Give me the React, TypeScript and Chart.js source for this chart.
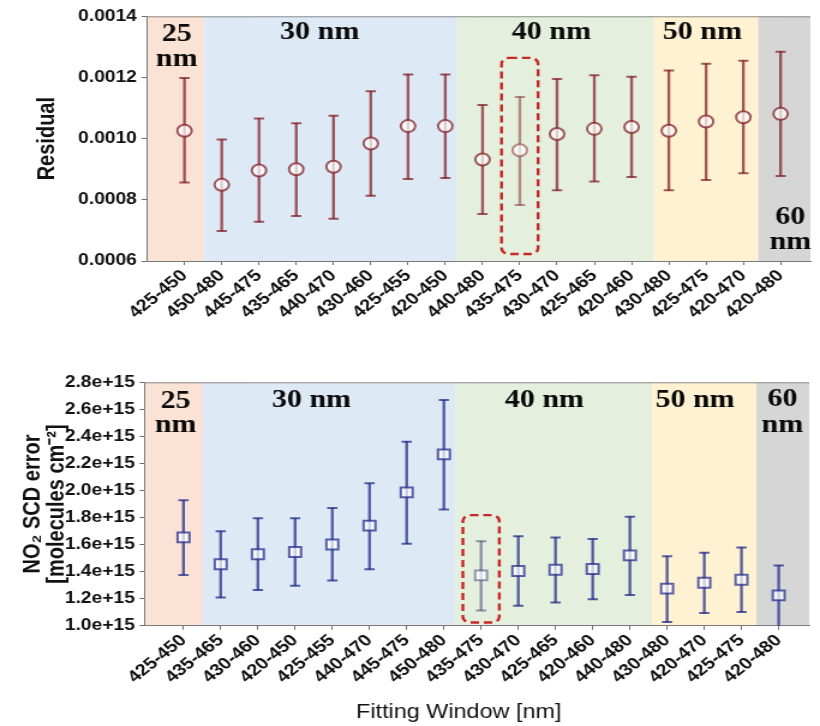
import React, { useEffect, useRef } from 'react';
import { Chart, registerables } from 'chart.js';
Chart.register(...registerables);

// ---------- data ----------
const residualWindows = ['425-450', '450-480', '445-475', '435-465', '440-470', '430-460', '425-455', '420-450', '440-480', '435-475', '430-470', '425-465', '420-460', '430-480', '425-475', '420-470', '420-480'];
const residualValues = [0.001026, 0.000849, 0.000896, 0.000900, 0.000908, 0.000984, 0.001041, 0.001041, 0.000932, 0.000962, 0.001015, 0.001032, 0.001038, 0.001026, 0.001056, 0.001070, 0.001081];
const residualUpper = [0.001198, 0.000997, 0.001066, 0.001050, 0.001075, 0.001155, 0.001210, 0.001210, 0.001110, 0.001136, 0.001195, 0.001207, 0.001202, 0.001223, 0.001245, 0.001255, 0.001284];
const residualLower = [0.000857, 0.000698, 0.000728, 0.000747, 0.000738, 0.000813, 0.000868, 0.000871, 0.000754, 0.000783, 0.000831, 0.000860, 0.000875, 0.000831, 0.000865, 0.000887, 0.000878];
const residualTicks = [0.0006, 0.0008, 0.0010, 0.0012, 0.0014];
const residualHighlight = 9;

const scdWindows = ['425-450', '435-465', '430-460', '420-450', '425-455', '440-470', '445-475', '450-480', '435-475', '430-470', '425-465', '420-460', '440-480', '430-480', '420-470', '425-475', '420-480'];
const scdValues = [1.653e15, 1.454e15, 1.528e15, 1.545e15, 1.601e15, 1.740e15, 1.986e15, 2.267e15, 1.372e15, 1.404e15, 1.414e15, 1.419e15, 1.520e15, 1.274e15, 1.318e15, 1.340e15, 1.224e15];
const scdUpper = [1.927e15, 1.698e15, 1.794e15, 1.794e15, 1.870e15, 2.053e15, 2.361e15, 2.669e15, 1.624e15, 1.661e15, 1.653e15, 1.641e15, 1.806e15, 1.513e15, 1.540e15, 1.579e15, 1.446e15];
const scdLower = [1.375e15, 1.209e15, 1.264e15, 1.296e15, 1.335e15, 1.417e15, 1.606e15, 1.860e15, 1.113e15, 1.148e15, 1.172e15, 1.195e15, 1.227e15, 1.027e15, 1.093e15, 1.101e15, 0.990e15];
const scdTicks = [1.0e15, 1.2e15, 1.4e15, 1.6e15, 1.8e15, 2.0e15, 2.2e15, 2.4e15, 2.6e15, 2.8e15];
const scdHighlight = 8;

const bandLabels = [['25', 'nm'], ['30 nm'], ['40 nm'], ['50 nm'], ['60', 'nm']];
const bandEdges = [-3, 0.52, 7.32, 12.6, 15.4, 20];
const bandColors = ['#fae2d5', '#dee9f6', '#e5efdd', '#fff2d3', '#d6d6d6'];

// ---------- rendering ----------
const STRETCH = 1.2;
const SCREEN_W = 820;
const INNER_W = Math.round(SCREEN_W / STRETCH);
const SANS = "'Liberation Sans', Arial, Helvetica, sans-serif";
const SERIF = "'Liberation Serif', 'Times New Roman', serif";

const bandsPlugin = {
  id: 'bands',
  beforeDraw(chart: any) {
    const { ctx, chartArea, scales } = chart;
    const x = scales.x;
    ctx.save();
    ctx.fillStyle = '#ffffff';
    ctx.fillRect(0, 0, chart.width, chart.height);
    for (let i = 0; i < bandColors.length; i++) {
      const x0 = Math.max(chartArea.left, x.getPixelForValue(bandEdges[i]));
      const x1 = Math.min(chartArea.right, x.getPixelForValue(bandEdges[i + 1]));
      ctx.fillStyle = bandColors[i];
      ctx.fillRect(x0, chartArea.top, x1 - x0, chartArea.bottom - chartArea.top);
    }
    ctx.restore();
  },
  afterDatasetsDraw(chart: any) {
    const { ctx, chartArea, scales } = chart;
    const o = chart.options.plugins.bands;
    const x = scales.x;
    const y = scales.y;
    ctx.save();
    // top frame line
    ctx.strokeStyle = '#8c8c8c';
    ctx.lineWidth = 1;
    ctx.beginPath();
    ctx.moveTo(chartArea.left, chartArea.top + 0.5);
    ctx.lineTo(chartArea.right, chartArea.top + 0.5);
    ctx.stroke();

    // highlight dashed box
    const h = o.highlight;
    const hx0 = x.getPixelForValue(h.x - h.half);
    const hx1 = x.getPixelForValue(h.x + h.half);
    const hy0 = y.getPixelForValue(h.top);
    const hy1 = y.getPixelForValue(h.bottom);
    ctx.strokeStyle = '#c62828';
    ctx.lineWidth = 2.4;
    ctx.setLineDash([7, 4]);
    ctx.beginPath();
    if ((ctx as any).roundRect) (ctx as any).roundRect(hx0, hy0, hx1 - hx0, hy1 - hy0, 6);
    else ctx.rect(hx0, hy0, hx1 - hx0, hy1 - hy0);
    ctx.stroke();
    ctx.setLineDash([]);

    // band labels
    ctx.fillStyle = '#0a0a0a';
    ctx.font = `bold 25px ${SERIF}`;
    ctx.textAlign = 'center';
    ctx.textBaseline = 'alphabetic';
    bandLabels.forEach((lines, i) => {
      const px = x.getPixelForValue(o.labelX[i]);
      const offs = o.labelY[i];
      lines.forEach((t: string, j: number) => {
        const off = offs[j];
        const py = off >= 0 ? chartArea.top + off : chartArea.bottom + off;
        ctx.fillText(t, px, py);
      });
    });

    if (o.xTitle) {
      ctx.font = `19.5px ${SANS}`;
      ctx.fillStyle = '#111';
      ctx.textBaseline = 'middle';
      ctx.fillText(o.xTitle, x.getPixelForValue(o.xTitleX), chartArea.bottom + o.xTitleDy);
    }
    ctx.restore();
  },
};

function makeConfig(p: any) {
  const n = p.windows.length;
  const idx = p.windows.map((_: string, i: number) => i);
  const colors = idx.map((i: number) => (i === p.highlight ? p.light : p.dark));
  const tickFont = { family: SANS, weight: 'bold' as const, size: 16 };
  return {
    type: 'scatter',
    data: {
      datasets: [
        {
          type: 'scatter',
          data: idx.map((i: number) => ({ x: i, y: p.values[i] })),
          pointStyle: p.marker,
          pointRadius: p.markerRadius,
          pointBorderWidth: 2,
          pointBackgroundColor: 'rgba(255,255,255,0.7)',
          pointBorderColor: colors,
          order: 0,
        },
        {
          type: 'scatter',
          data: idx.map((i: number) => ({ x: i, y: p.upper[i] })),
          pointStyle: 'line',
          pointRadius: 4.3,
          pointBorderWidth: 2,
          pointBorderColor: colors,
          order: 1,
        },
        {
          type: 'scatter',
          data: idx.map((i: number) => ({ x: i, y: p.lower[i] })),
          pointStyle: 'line',
          pointRadius: 4.3,
          pointBorderWidth: 2,
          pointBorderColor: colors,
          order: 1,
        },
        {
          type: 'bar',
          data: idx.map((i: number) => ({ x: i, y: [p.lower[i], p.upper[i]] })),
          backgroundColor: colors,
          borderWidth: 0,
          barThickness: 1.7,
          order: 2,
        },
      ],
    },
    options: {
      animation: false,
      responsive: false,
      events: [],
      layout: { padding: { top: p.padTop, left: 0, right: 0, bottom: 0 } },
      plugins: {
        legend: { display: false },
        tooltip: { enabled: false },
        bands: {
          labelX: p.labelX,
          labelY: p.labelY,
          highlight: p.box,
          xTitle: p.xTitle,
          xTitleX: p.xTitleX,
          xTitleDy: p.xTitleDy,
        },
      },
      scales: {
        x: {
          type: 'linear',
          min: p.xMin,
          max: p.xMax,
          offset: false,
          afterBuildTicks: (s: any) => {
            s.ticks = idx.map((i: number) => ({ value: i }));
          },
          afterFit: (s: any) => {
            s.height = p.xAxisHeight;
          },
          ticks: {
            autoSkip: false,
            minRotation: 44,
            maxRotation: 44,
            padding: 1,
            color: '#111',
            font: { family: SANS, weight: 'bold', size: 16.5 },
            callback: (v: number) => (Number.isInteger(v) && v >= 0 && v < n ? p.windows[v] : ''),
          },
          grid: { display: true, drawOnChartArea: false, drawTicks: true, tickLength: 4, offset: false, color: '#6e6e6e' },
          border: { display: true, color: '#7a7a7a', width: 1 },
        },
        y: {
          type: 'linear',
          min: p.yMin,
          max: p.yMax,
          afterBuildTicks: (s: any) => {
            s.ticks = p.yTicks.map((v: number) => ({ value: v }));
          },
          afterFit: (s: any) => {
            s.width = p.yAxisWidth;
          },
          ticks: {
            padding: 4,
            color: '#111',
            font: tickFont,
            callback: p.tickFormat,
          },
          grid: { display: true, drawOnChartArea: false, drawTicks: true, tickLength: 4, color: '#6e6e6e' },
          border: { display: true, color: '#7a7a7a', width: 1 },
          title: {
            display: true,
            text: p.yTitle,
            color: '#111',
            font: { family: SANS, weight: 'bold', size: 20, lineHeight: p.titleLineHeight },
            padding: { top: p.titlePad, bottom: 0 },
          },
        },
      },
    },
    plugins: [bandsPlugin],
  };
}

function ChartPanel(props: { top: number; height: number; params: any }) {
  const ref = useRef<HTMLCanvasElement | null>(null);
  useEffect(() => {
    if (!ref.current) return;
    const chart = new Chart(ref.current, makeConfig(props.params) as any);
    return () => chart.destroy();
  }, []);
  return (
    <canvas
      ref={ref}
      width={INNER_W}
      height={props.height}
      style={{ position: 'absolute', left: 0, top: props.top, width: SCREEN_W + 'px', height: props.height + 'px' }}
    />
  );
}

const topParams = {
  windows: residualWindows,
  values: residualValues,
  upper: residualUpper,
  lower: residualLower,
  highlight: residualHighlight,
  dark: 'rgba(128,28,34,0.72)',
  light: 'rgba(128,40,34,0.5)',
  marker: 'circle',
  markerRadius: 6,
  yMin: 0.0006,
  yMax: 0.0014,
  yTicks: residualTicks,
  tickFormat: (v: number) => v.toFixed(4),
  yTitle: 'Residual',
  titleLineHeight: 1.2,
  titlePad: 27,
  xMin: -1.02,
  xMax: 16.8,
  padTop: 16.3,
  xAxisHeight: 340 - 261,
  yAxisWidth: 122,
  labelX: [-0.21, 3.63, 9.85, 13.9, 16.26],
  labelY: [[25, 50], [23], [23], [23], [-37, -12]],
  box: { x: residualHighlight, half: 0.49, top: 0.001264, bottom: 0.000623 },
  xTitle: null,
};

const bottomParams = {
  windows: scdWindows,
  values: scdValues,
  upper: scdUpper,
  lower: scdLower,
  highlight: scdHighlight,
  dark: 'rgba(36,46,140,0.75)',
  light: 'rgba(50,56,110,0.5)',
  marker: 'rect',
  markerRadius: 7,
  yMin: 1.0e15,
  yMax: 2.8e15,
  yTicks: scdTicks,
  tickFormat: (v: number) => v.toExponential(1),
  yTitle: ['NO\u2082 SCD error', '[molecules cm\u207B\u00B2]'],
  titleLineHeight: 1.0,
  titlePad: 17.5,
  xMin: -1.05,
  xMax: 16.82,
  padTop: 42.3,
  xAxisHeight: 386 - 285.7,
  yAxisWidth: 120.3,
  labelX: [-0.21, 3.44, 9.7, 13.75, 16.1],
  labelY: [[26, 50], [24.4], [24.4], [24.4], [24, 50]],
  box: { x: scdHighlight, half: 0.49, top: 1.818e15, bottom: 1.024e15 },
  xTitle: 'Fitting Window [nm]',
  xTitleX: 7.4,
  xTitleDy: 87,
};

export default function App() {
  return (
    <div style={{ position: 'absolute', left: 0, top: 0, width: SCREEN_W, height: 726, overflow: 'hidden', background: '#fff' }}>
      <ChartPanel top={0} height={340} params={topParams} />
      <ChartPanel top={340} height={386} params={bottomParams} />
    </div>
  );
}
